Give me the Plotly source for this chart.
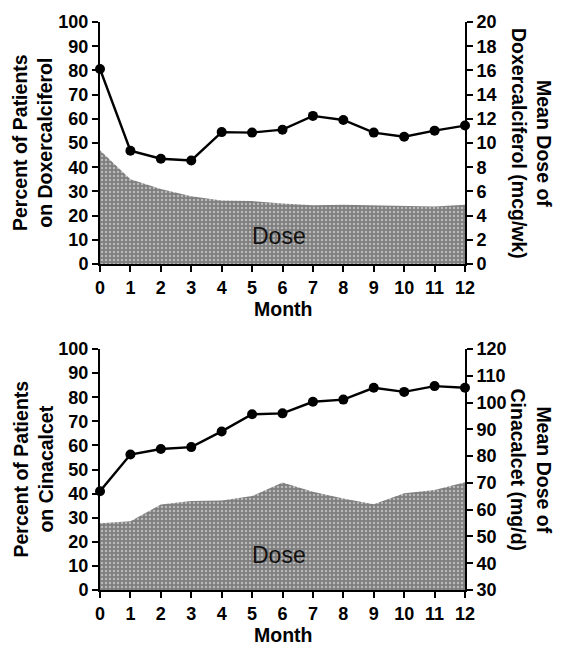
import plotly.graph_objects as go

months = list(range(13))

# Top panel: Doxercalciferol
doxer_pct = [80.6, 46.8, 43.5, 42.8, 54.5, 54.3, 55.5, 61.2, 59.5, 54.3, 52.6, 55.1, 57.2]
doxer_dose = [9.4, 7.0, 6.2, 5.6, 5.25, 5.2, 5.0, 4.85, 4.9, 4.85, 4.8, 4.75, 4.9]

# Bottom panel: Cinacalcet
cina_pct = [41.0, 56.2, 58.5, 59.3, 65.8, 72.9, 73.3, 78.1, 79.0, 83.9, 82.2, 84.6, 83.9]
cina_dose = [54.9, 55.7, 61.9, 63.2, 63.4, 65.1, 70.1, 66.7, 64.2, 62.0, 66.1, 67.3, 70.2]

pct_ticks = list(range(0, 101, 10))
doxer_ticks = list(range(0, 21, 2))
cina_ticks = list(range(30, 121, 10))

FONT = "Liberation Sans"
OFF = 8  # page body margin offset
W, H = 567 - OFF, 645 - OFF


def px_x(v):
    return (v - OFF) / W


def px_y(v):
    return 1 - (v - OFF) / H


fig = go.Figure()

pattern = dict(shape=".", bgcolor="#7e7e7e", fgcolor="#f2f2f2", size=4, solidity=0.3)

# top
fig.add_trace(go.Scatter(x=months, y=doxer_dose, xaxis="x", yaxis="y", mode="lines",
                         line=dict(width=0, color="#7e7e7e"), fill="tozeroy",
                         fillcolor="#7e7e7e", fillpattern=pattern, showlegend=False))
fig.add_trace(go.Scatter(x=months, y=doxer_pct, xaxis="x", yaxis="y2", mode="lines+markers",
                         line=dict(width=2.4, color="black"),
                         marker=dict(size=10, color="black"), cliponaxis=False, showlegend=False))
# bottom
fig.add_trace(go.Scatter(x=months, y=cina_dose, xaxis="x2", yaxis="y3", mode="lines",
                         line=dict(width=0, color="#7e7e7e"), fill="tozeroy",
                         fillcolor="#7e7e7e", fillpattern=pattern, showlegend=False))
fig.add_trace(go.Scatter(x=months, y=cina_pct, xaxis="x2", yaxis="y4", mode="lines+markers",
                         line=dict(width=2.4, color="black"),
                         marker=dict(size=10, color="black"), cliponaxis=False, showlegend=False))

x0, x1 = px_x(100), px_x(465)
top_dom = [px_y(264), px_y(22)]
bot_dom = [px_y(590), px_y(349)]

tickfont = dict(family=FONT, size=18, color="black", weight="bold")
common_axis = dict(showline=True, linecolor="black", linewidth=2, ticks="outside",
                   ticklen=6, tickwidth=2, tickcolor="black", showgrid=False,
                   zeroline=False, tickfont=tickfont, automargin=False)

fig.update_layout(
    width=W, height=H, margin=dict(l=0, r=0, t=0, b=0),
    paper_bgcolor="white", plot_bgcolor="white",
    xaxis=dict(domain=[x0, x1], anchor="y", range=[0, 12], tickvals=months, **common_axis),
    yaxis=dict(domain=top_dom, anchor="x", side="right", range=[0, 20],
               tickvals=doxer_ticks, **common_axis),
    yaxis2=dict(domain=top_dom, anchor="x", side="left", overlaying="y", range=[0, 100],
                tickvals=pct_ticks, **common_axis),
    xaxis2=dict(domain=[x0, x1], anchor="y3", range=[0, 12], tickvals=months, **common_axis),
    yaxis3=dict(domain=bot_dom, anchor="x2", side="right", range=[30, 120],
                tickvals=cina_ticks, **common_axis),
    yaxis4=dict(domain=bot_dom, anchor="x2", side="left", overlaying="y3", range=[0, 100],
                tickvals=pct_ticks, **common_axis),
)

titlefont = dict(family=FONT, size=19.5, color="black", weight="bold")
ann = []
for (ytop, ybot, left, right) in [
    (22, 264, "Percent of Patients<br>on Doxercalciferol", "Mean Dose of<br>Doxercalciferol (mcg/wk)"),
    (349, 590, "Percent of Patients<br>on Cinacalcet", "Mean Dose of<br>Cinacalcet (mg/d)"),
]:
    yc = px_y((ytop + ybot) / 2)
    ann.append(dict(text=left, x=px_x(33), y=yc, xref="paper", yref="paper", showarrow=False,
                    textangle=-90, font=titlefont, xanchor="center", yanchor="middle"))
    ann.append(dict(text=right, x=px_x(531), y=yc, xref="paper", yref="paper", showarrow=False,
                    textangle=90, font=titlefont, xanchor="center", yanchor="middle"))
    ann.append(dict(text="Month", x=(x0 + x1) / 2, y=px_y(ybot + 45), xref="paper", yref="paper",
                    showarrow=False, font=titlefont, xanchor="center", yanchor="middle"))

ann.append(dict(text="Dose", x=5.9, y=2.3, xref="x", yref="y", showarrow=False,
                font=dict(family=FONT, size=23, color="#111")))
ann.append(dict(text="Dose", x=5.9, y=43.1, xref="x2", yref="y3", showarrow=False,
                font=dict(family=FONT, size=23, color="#111")))
fig.update_layout(annotations=ann)

fig.write_html("out.html")
